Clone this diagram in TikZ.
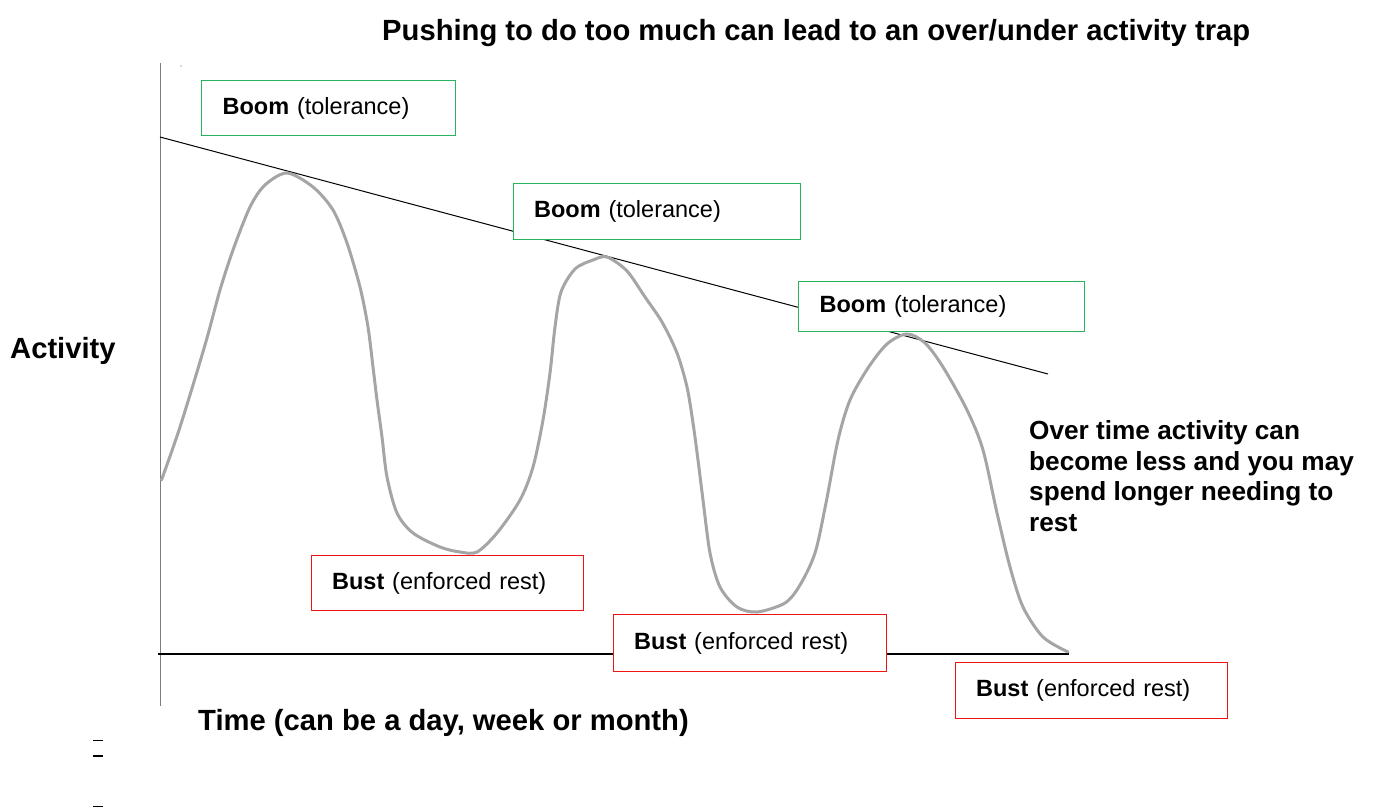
\documentclass[tikz,border=0pt]{standalone}
\usepackage{fontspec}
\setmainfont{Liberation Sans}
\definecolor{boomgreen}{RGB}{40,180,90}
\definecolor{bustred}{RGB}{240,20,20}
\definecolor{curvegray}{RGB}{165,165,165}
\definecolor{axisgray}{RGB}{125,125,125}
\begin{document}
\begin{tikzpicture}[x=1pt,y=-1pt,
  boxbase/.style={line width=1.3pt, fill=white, anchor=north west, inner ysep=0pt,
    align=left, font=\fontsize{23.5}{28}\selectfont},
  boombox/.style={boxbase, draw=boomgreen},
  bustbox/.style={boxbase, draw=bustred},
  heading/.style={inner sep=0pt, anchor=base west, font=\bfseries\fontsize{29.2}{34}\selectfont},
  note/.style={inner sep=0pt, anchor=base west, align=left, font=\bfseries\fontsize{26.2}{30.5}\selectfont},
  actcurve/.style={draw=curvegray, line width=3pt, line join=round, line cap=round}]
\useasboundingbox (0,0) rectangle (1376,809);

% axes and trend line
\coordinate (ytop) at (160.5,63);
\coordinate (ybot) at (160.5,706);
\coordinate (xl) at (158,654);
\coordinate (xr) at (1069,654);
\coordinate (tl) at (160,137);
\coordinate (tr) at (1048,374);
\draw[axisgray, line width=1.8pt] (ytop) -- (ybot);
\draw[black, line width=1.4pt] (xl) -- (xr);
\draw[black, line width=1pt] (tl) -- (tr);
\fill[gray!60] (181,66) circle (0.8);

% activity curve
\draw[actcurve] plot[smooth, tension=0.5] coordinates {
 (161.5,480) (180,427) (205,345) (220,290) (233,250) (250,207) (265,185) (287,173)
 (313,187) (333,210) (347,243) (360,287) (368,327) (373,367) (377,400) (382,437)
 (387,477) (397,513) (413,533) (440,547) (460,552) (477,552) (497,533) (520,500)
 (533,467) (543,420) (550,373) (555,327) (561,292) (575,269) (593,260) (607,257)
 (627,271) (645,297) (662,322) (677,353) (687,387) (693,423) (698,460) (703,500)
 (710,553) (720,587) (737,607) (757,612) (785,603) (800,585) (815,553) (826,503)
 (838,440) (850,400) (868,368) (887,344) (907,334) (925,343) (943,367) (967,410)
 (983,450) (997,513) (1010,567) (1023,607) (1043,637) (1068,652)};

% boxes
\node[boombox, text width=212pt, minimum height=55pt, inner xsep=21pt] (boom1) at (201,80) {\textbf{Boom} (tolerance)};
\node[boombox, text width=245pt, minimum height=56pt, inner xsep=21pt] (boom2) at (512.5,183) {\textbf{Boom} (tolerance)};
\node[boombox, text width=244pt, minimum height=50pt, inner xsep=21pt] (boom3) at (798,281) {\textbf{Boom} (tolerance)};
\node[bustbox, text width=231pt, minimum height=55pt, inner xsep=20.5pt] (bust1) at (311,555) {\textbf{Bust} (enforced rest)};
\node[bustbox, text width=232pt, minimum height=57pt, inner xsep=20.5pt] (bust2) at (613,614) {\textbf{Bust} (enforced rest)};
\node[bustbox, text width=231pt, minimum height=56pt, inner xsep=20.5pt] (bust3) at (955,662) {\textbf{Bust} (enforced rest)};

% texts
\node[heading] (title) at (382,40) {Pushing to do too much can lead to an over/under activity trap};
\node[heading] (ylab) at (10,358) {Activity};
\node[heading] (xlab) at (198,730) {Time (can be a day, week or month)};
\node[note] (over) at (1029,531) {Over time activity can\\become less and you may\\spend longer needing to\\rest};

% small dashes
\coordinate (d1a) at (93,740.5); \coordinate (d1b) at (103,740.5);
\coordinate (d2a) at (93,756); \coordinate (d2b) at (103,756);
\coordinate (d3a) at (93,806.5); \coordinate (d3b) at (103,806.5);
\draw[line width=1.4pt] (d1a) -- (d1b);
\draw[line width=1.4pt] (d2a) -- (d2b);
\draw[line width=1.4pt] (d3a) -- (d3b);
\end{tikzpicture}
\end{document}
